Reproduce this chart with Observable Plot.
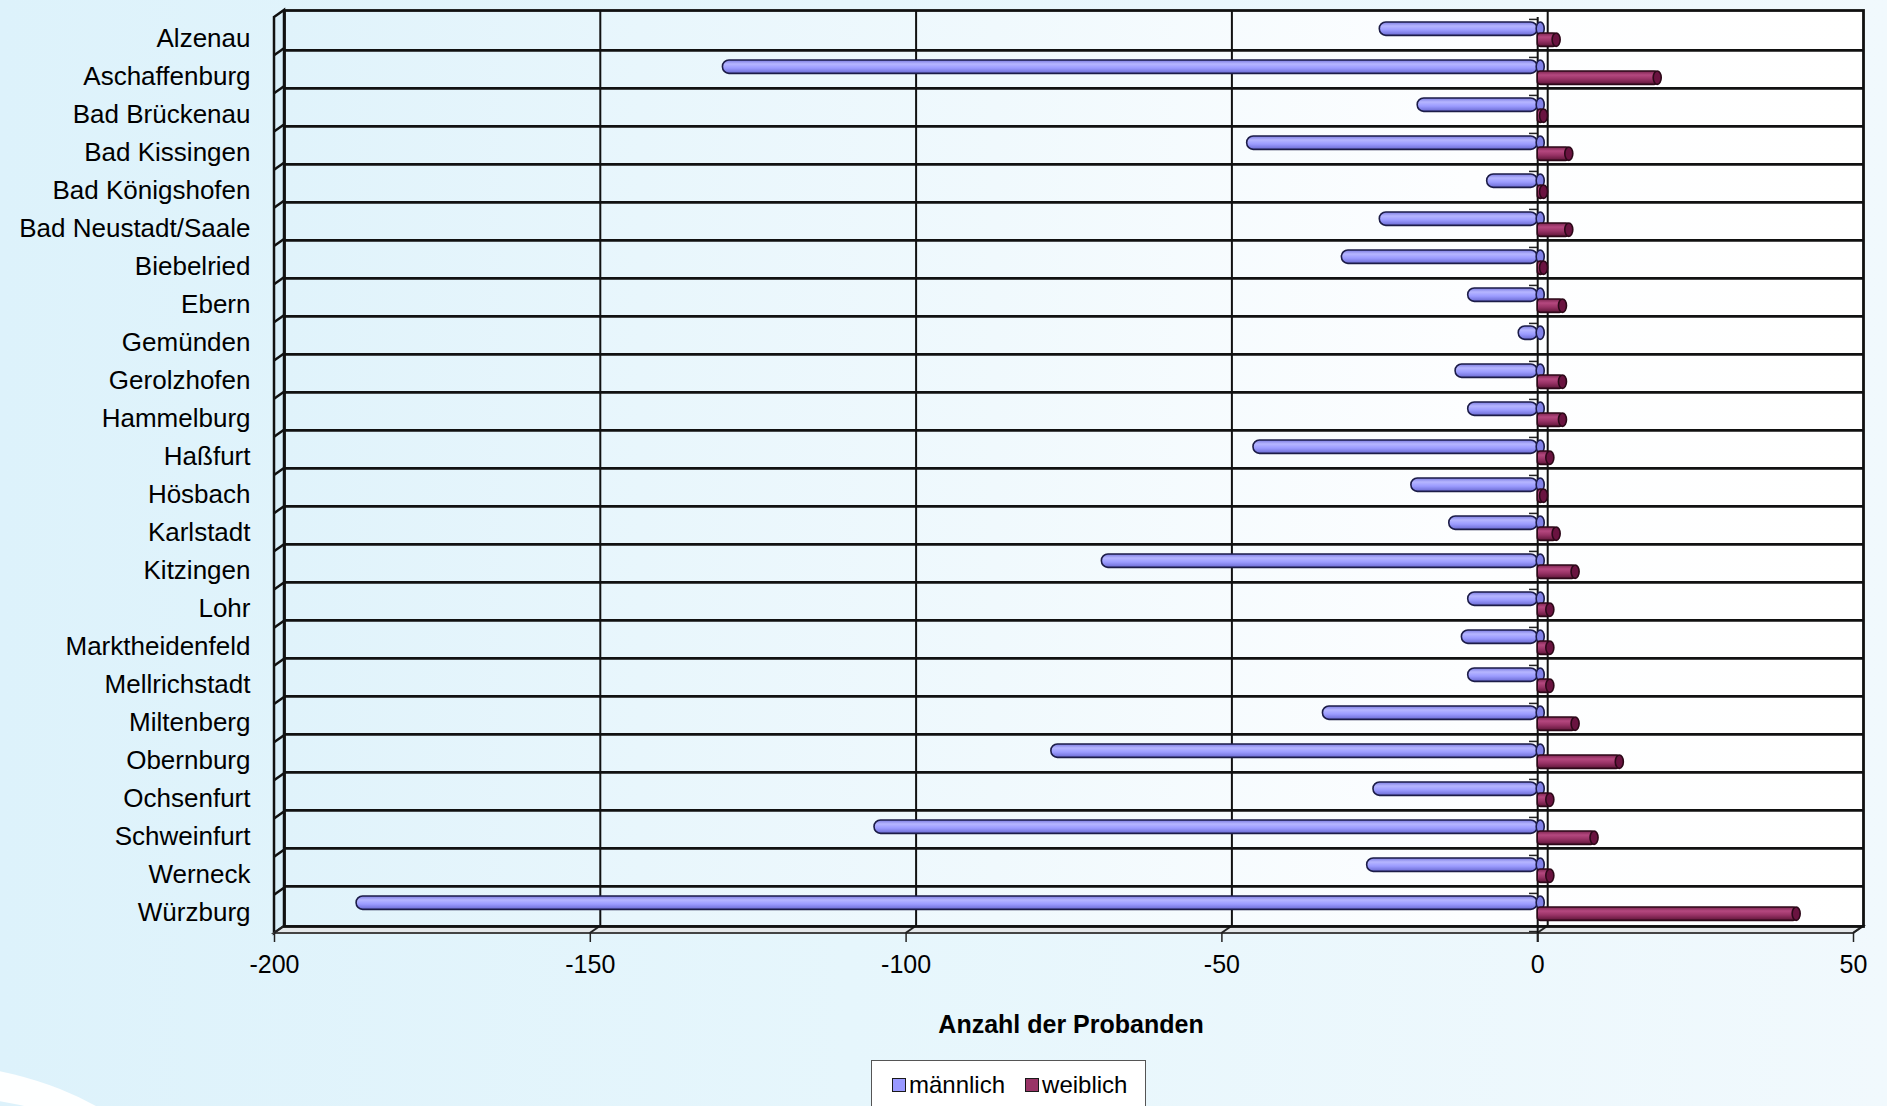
<!DOCTYPE html>
<html>
<head>
<meta charset="utf-8">
<script src="https://cdn.jsdelivr.net/npm/d3@7"></script>
<script src="https://cdn.jsdelivr.net/npm/@observablehq/plot@0.6"></script>
<style>
  html, body { margin: 0; padding: 0; }
  body {
    width: 1887px; height: 1106px; overflow: hidden; position: relative;
    background: linear-gradient(to right, #ddf2fb 0%, #e6f6fc 45%, #f1f9fd 100%);
    font-family: "Liberation Sans", Arial, sans-serif;
  }
  #swoosh {
    position: absolute; left: -360px; top: 1062px; width: 540px; height: 320px;
    border-radius: 50%; border-top: 32px solid rgba(255,255,255,0.95);
    box-sizing: border-box;
  }
  #chart { position: relative; }
  #chart svg { display: block; }
  #legend {
    position: relative; margin-left: 871px; margin-top: 8px;
    width: 275px; height: 60px; box-sizing: border-box;
    border: 1.5px solid #555; background: #fff;
    display: flex; align-items: flex-start; padding: 12px 0 0 20px;
    font-size: 24px; line-height: 24px; color: #000;
  }
  .item { display: flex; align-items: center; margin-right: 20px; }
  .sw { width: 12px; height: 12px; border: 1.5px solid #1a1a1a; margin-right: 3px; }
</style>
</head>
<body>
<div id="swoosh"></div>
<div id="chart"></div>
<div id="legend"></div>
<script>
// ---- data ----
const orte = ["Alzenau", "Aschaffenburg", "Bad Brückenau", "Bad Kissingen", "Bad Königshofen",
  "Bad Neustadt/Saale", "Biebelried", "Ebern", "Gemünden", "Gerolzhofen", "Hammelburg", "Haßfurt",
  "Hösbach", "Karlstadt", "Kitzingen", "Lohr", "Marktheidenfeld", "Mellrichstadt", "Miltenberg",
  "Obernburg", "Ochsenfurt", "Schweinfurt", "Werneck", "Würzburg"];
const maennlich = [-25, -129, -19, -46, -8, -25, -31, -11, -3, -13, -11, -45, -20, -14, -69,
  -11, -12, -11, -34, -77, -26, -105, -27, -187];
const weiblich = [3, 19, 1, 5, 1, 5, 1, 4, 0, 4, 4, 2, 1, 3, 6, 2, 2, 2, 6, 13, 2, 9, 2, 41];
const serien = ["männlich", "weiblich"];
const farben = ["#9999ff", "#993366"];
const xTicks = [-200, -150, -100, -50, 0, 50];
const xLabel = "Anzahl der Probanden";

const rows = orte.map((ort, i) => ({ort, m: maennlich[i], w: weiblich[i]}));

// ---- layout ----
const W = 1887, H = 1052;
const mTop = 10, backBottom = 926;
const mLeft = 274, mRight = 34;
const mBottom = H - backBottom;
const step = (backBottom - mTop) / orte.length;
const DX = 10, DY = 7;
const font = "'Liberation Sans', Arial, sans-serif";

function walls(index, scales, values, dim) {
  const {width, height, marginTop: t, marginRight, marginBottom, marginLeft: l} = dim;
  const r = width - marginRight, b = height - marginBottom;
  const n = orte.length, st = (b - t) / n;
  const g = d3.create("svg:g").attr("fill", "none");
  g.append("path")
    .attr("d", `M${l},${t + DY}L${l + DX},${t}L${l + DX},${b}L${l},${b + DY}Z`)
    .attr("fill", "#d9eff9").attr("stroke", "#111").attr("stroke-width", 2.5);
  g.append("path")
    .attr("d", `M${l},${b + DY}L${l + DX},${b}L${r + DX},${b}L${r},${b + DY}Z`)
    .attr("fill", "#e4e7e9").attr("stroke", "#444").attr("stroke-width", 2);
  for (let i = 1; i < n; i++) {
    const y = t + i * st;
    g.append("line").attr("x1", l).attr("y1", y + DY).attr("x2", l + DX).attr("y2", y)
      .attr("stroke", "#111").attr("stroke-width", 2.5);
  }
  for (const v of xTicks) {
    const x = scales.x(v);
    g.append("line").attr("x1", x).attr("y1", b + DY).attr("x2", x + DX).attr("y2", b)
      .attr("stroke", "#222").attr("stroke-width", 2);
  }
  return g.node();
}

const plot = Plot.plot({
  width: W, height: H,
  marginTop: mTop, marginBottom: mBottom, marginLeft: mLeft, marginRight: mRight,
  style: {fontFamily: font, background: "transparent", overflow: "visible", color: "#000"},
  x: {domain: [-200, 50], axis: null},
  y: {domain: orte, padding: 0, axis: null},
  marks: [
    Plot.frame({dx: DX, fill: "url(#wallGrad)", stroke: "none"}),
    walls,
    Plot.ruleY(orte.slice(1), {y: d => d, x1: -200, x2: 50, dx: DX, dy: -step / 2, stroke: "#111", strokeWidth: 2.8}),
    Plot.ruleX(xTicks.slice(1, -1), {x: d => d, dx: DX, stroke: "#111", strokeWidth: 2}),
    Plot.frame({dx: DX, stroke: "#111", strokeWidth: 2.8}),
    // front zero line and small ticks
    Plot.ruleX([0], {x: d => d, insetTop: DY, insetBottom: -16, stroke: "#111", strokeWidth: 2}),
    Plot.ruleY(orte, {y: d => d, x1: -1.3, x2: 0, dy: -step / 2 + DY, stroke: "#222", strokeWidth: 1.5}),
    Plot.ruleY(orte.slice(-1), {y: d => d, x1: -1.3, x2: 0, dy: step / 2 + DY, stroke: "#222", strokeWidth: 1.5}),
    // x ticks below the front floor edge
    Plot.ruleX(xTicks, {x: d => d, insetTop: (backBottom - mTop) + DY, insetBottom: -16, stroke: "#222", strokeWidth: 1.5}),
    // männlich bars
    Plot.barX(rows, {x1: 0, x2: "m", y: "ort", insetTop: 10, insetBottom: step - 23.5,
      fill: "url(#gradM)", stroke: "#1c1c48", strokeWidth: 1.6, rx: 6.5}),
    Plot.barX(rows, {x1: 0, x2: 0, y: "ort", insetLeft: -1, insetRight: -7, insetTop: 10, insetBottom: step - 23.5,
      fill: "#8383e8", stroke: "#1c1c48", strokeWidth: 1.6, rx: 4, ry: 6.5}),
    // weiblich bars
    Plot.barX(rows.filter(d => d.w > 0), {x1: 0, x2: "w", y: "ort", insetTop: 21, insetBottom: step - 34.5,
      fill: "url(#gradW)", stroke: "#2c0818", strokeWidth: 1.6, rx: 3}),
    Plot.barX(rows.filter(d => d.w > 0), {x1: "w", x2: "w", y: "ort", insetLeft: -4, insetRight: -4, insetTop: 21, insetBottom: step - 34.5,
      fill: "#6a1340", stroke: "#2c0818", strokeWidth: 1.6, rx: 4, ry: 6.5}),
    // category labels
    Plot.text(orte, {y: d => d, text: d => d, frameAnchor: "left", textAnchor: "end", dx: -24, dy: DY,
      fontSize: 26, fill: "#000"}),
    // x tick labels
    Plot.text(xTicks, {x: d => d, text: d => String(d), frameAnchor: "bottom", dy: 46, fontSize: 25, fill: "#000"}),
    // axis title
    Plot.text([xLabel], {text: d => d, frameAnchor: "bottom", dx: 7, dy: 106, fontSize: 25, fontWeight: "bold", fill: "#000"})
  ]
});

plot.insertAdjacentHTML("afterbegin", `
<defs>
  <linearGradient id="wallGrad" x1="0" y1="0" x2="1" y2="0">
    <stop offset="0" stop-color="#e0f3fb"/>
    <stop offset="0.45" stop-color="#f0f9fd"/>
    <stop offset="0.75" stop-color="#fdfeff"/>
    <stop offset="1" stop-color="#ffffff"/>
  </linearGradient>
  <linearGradient id="gradM" x1="0" y1="0" x2="0" y2="1">
    <stop offset="0" stop-color="#7a7ae0"/>
    <stop offset="0.3" stop-color="#b6b6ff"/>
    <stop offset="0.6" stop-color="#9c9cff"/>
    <stop offset="1" stop-color="#6a6ad2"/>
  </linearGradient>
  <linearGradient id="gradW" x1="0" y1="0" x2="0" y2="1">
    <stop offset="0" stop-color="#7a2450"/>
    <stop offset="0.3" stop-color="#b5487f"/>
    <stop offset="0.6" stop-color="#993366"/>
    <stop offset="1" stop-color="#5e1538"/>
  </linearGradient>
</defs>`);

document.getElementById("chart").appendChild(plot);

const legend = document.getElementById("legend");
serien.forEach((s, i) => {
  const item = document.createElement("div");
  item.className = "item";
  const sw = document.createElement("div");
  sw.className = "sw";
  sw.style.background = farben[i];
  const label = document.createElement("span");
  label.textContent = s;
  item.appendChild(sw);
  item.appendChild(label);
  legend.appendChild(item);
});
</script>
</body>
</html>
